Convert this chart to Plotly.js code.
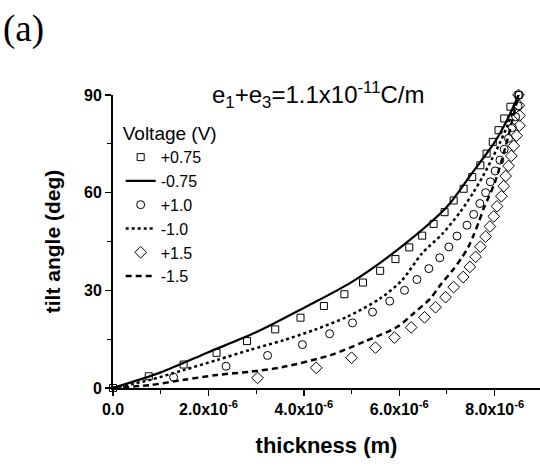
<!DOCTYPE html>
<html>
<head>
<meta charset="utf-8">
<script src="https://cdn.plot.ly/plotly-3.0.1.min.js"></script>
<style>html,body{margin:0;padding:0;background:#fff;}#chart{width:540px;height:466px;}</style>
</head>
<body>
<div id="chart"></div>
<script>
// thickness values in micrometres (×1e-6 m), tilt angle in degrees
const sqX = [0, 0.75, 1.48, 2.17, 2.81, 3.40, 3.93, 4.42, 4.85, 5.24, 5.60, 5.92, 6.21, 6.48, 6.72, 6.95, 7.14, 7.35, 7.53, 7.70, 7.83, 7.96, 8.08, 8.20, 8.33, 8.50];
const sqY = [0, 3.6, 7.2, 10.8, 14.4, 18.0, 21.6, 25.2, 28.8, 32.4, 36.0, 39.6, 43.2, 46.8, 50.4, 54.0, 57.6, 61.2, 64.8, 68.4, 72.0, 75.6, 79.2, 82.8, 86.4, 90.0];

const ciX = [1.27, 2.37, 3.24, 3.97, 4.54, 5.02, 5.44, 5.80, 6.11, 6.37, 6.62, 6.85, 7.04, 7.21, 7.42, 7.56, 7.69, 7.81, 7.91, 8.01, 8.11, 8.20, 8.29, 8.37, 8.44, 8.49, 8.51];
const ciY = [3.33, 6.67, 10.0, 13.33, 16.67, 20.0, 23.33, 26.67, 30.0, 33.33, 36.67, 40.0, 43.33, 46.67, 50.0, 53.33, 56.67, 60.0, 63.33, 66.67, 70.0, 73.33, 76.67, 80.0, 83.33, 86.67, 90.0];

const diX = [3.03, 4.26, 5.00, 5.50, 5.90, 6.25, 6.53, 6.76, 6.97, 7.14, 7.34, 7.48, 7.60, 7.70, 7.81, 7.90, 7.98, 8.05, 8.14, 8.19, 8.23, 8.29, 8.35, 8.40, 8.46, 8.52, 8.52, 8.51, 8.50];
const diY = [3.1, 6.2, 9.3, 12.4, 15.5, 18.6, 21.7, 24.8, 27.9, 31.0, 34.1, 37.2, 40.3, 43.4, 46.5, 49.6, 52.7, 55.8, 58.9, 62.0, 65.1, 68.2, 71.3, 74.4, 77.5, 80.6, 83.7, 86.8, 90.0];

const solidX = [0, 1, 2, 3, 4, 5, 6, 7, 7.5, 8, 8.25, 8.5];
const solidY = [0, 4.8, 11.0, 17.1, 24.6, 32.5, 42.9, 55.7, 65.5, 75.5, 82.0, 90.0];

const dotX = [0, 0.78, 1.48, 2.18, 2.87, 3.58, 4.21, 4.91, 5.60, 6.05, 6.48, 6.90, 7.28, 7.55, 7.75, 7.93, 8.10, 8.25, 8.38, 8.50];
const dotY = [0, 2.5, 5.5, 8.6, 11.7, 14.7, 17.8, 21.9, 27.5, 33.0, 41.4, 47.3, 54.1, 60.0, 65.0, 70.0, 75.0, 80.0, 85.0, 90.0];

const dashX = [0, 0.78, 1.48, 2.18, 2.88, 3.58, 4.56, 5.26, 5.96, 6.30, 6.65, 6.86, 7.12, 7.30, 7.45, 7.56, 7.67, 7.77, 7.88, 8.00, 8.15, 8.28, 8.40, 8.50];
const dashY = [0, 0.9, 2.5, 4.0, 5.0, 6.5, 10.1, 14.2, 18.8, 22.9, 27.5, 31.6, 36.2, 39.8, 43.4, 47.0, 51.1, 55.2, 58.8, 63.0, 70.0, 77.0, 84.0, 90.0];

const xTickVals = [0, 2, 4, 6, 8];
const xTickText = ['<b>0.0</b>', '<b>2.0x10<sup>-6</sup></b>', '<b>4.0x10<sup>-6</sup></b>', '<b>6.0x10<sup>-6</sup></b>', '<b>8.0x10<sup>-6</sup></b>'];
const yTickVals = [0, 30, 60, 90];
const yTickText = ['<b>0</b>', '<b>30</b>', '<b>60</b>', '<b>90</b>'];

const um = v => v * 1e-6;
const F = '"Liberation Sans", Arial, sans-serif';

const traces = [
  {name: '+0.75', x: sqX.map(um), y: sqY, mode: 'markers', type: 'scatter',
   marker: {symbol: 'square-open', size: 7, color: '#000', line: {width: 1}}, cliponaxis: false},
  {name: '-0.75', x: solidX.map(um), y: solidY, mode: 'lines', type: 'scatter',
   line: {color: '#000', width: 2.2, shape: 'spline', smoothing: 0.8}, cliponaxis: false},
  {name: '+1.0', x: ciX.map(um), y: ciY, mode: 'markers', type: 'scatter',
   marker: {symbol: 'circle-open', size: 8, color: '#000', line: {width: 1}}, cliponaxis: false},
  {name: '-1.0', x: dotX.map(um), y: dotY, mode: 'lines', type: 'scatter',
   line: {color: '#000', width: 2.5, dash: 'dot', shape: 'spline', smoothing: 0.8}, cliponaxis: false},
  {name: '+1.5', x: diX.map(um), y: diY, mode: 'markers', type: 'scatter',
   marker: {symbol: 'diamond-open', size: 9, color: '#000', line: {width: 1}}, cliponaxis: false},
  {name: '-1.5', x: dashX.map(um), y: dashY, mode: 'lines', type: 'scatter',
   line: {color: '#000', width: 2.5, dash: '6px,4px', shape: 'spline', smoothing: 0.8}, cliponaxis: false}
];

const layout = {
  width: 540, height: 466,
  margin: {l: 113, r: 0, t: 95, b: 78},
  paper_bgcolor: '#fff', plot_bgcolor: '#fff',
  font: {family: F, color: '#000', size: 16},
  showlegend: true,
  legend: {
    x: 0.018, y: 0.93, xanchor: 'left', yanchor: 'top',
    bgcolor: 'rgba(0,0,0,0)', borderwidth: 0,
    font: {family: F, size: 16, color: '#000'},
    title: {text: 'Voltage (V)', font: {family: F, size: 19, color: '#000'}, side: 'top'},
    tracegroupgap: 0, itemwidth: 30
  },
  xaxis: {
    range: [0, um(8.95)],
    tickvals: xTickVals.map(um), ticktext: xTickText,
    ticks: 'outside', ticklen: 6, tickwidth: 1.5, tickcolor: '#000',
    minor: {dtick: um(1), ticks: 'outside', ticklen: 4, tickwidth: 1, tickcolor: '#000', tick0: 0},
    showline: true, linecolor: '#000', linewidth: 2,
    showgrid: false, zeroline: false,
    tickfont: {family: F, size: 16, color: '#000'},
    title: {text: '<b>thickness (m)</b>', font: {family: F, size: 22, color: '#000'}, standoff: 20}
  },
  yaxis: {
    range: [0, 90],
    tickvals: yTickVals, ticktext: yTickText,
    ticks: 'outside', ticklen: 6, tickwidth: 1.5, tickcolor: '#000',
    minor: {dtick: 15, ticks: 'outside', ticklen: 4, tickwidth: 1, tickcolor: '#000', tick0: 0},
    showline: true, linecolor: '#000', linewidth: 2,
    showgrid: false, zeroline: false,
    tickfont: {family: F, size: 16, color: '#000'},
    title: {text: '<b>tilt angle (deg)</b>', font: {family: F, size: 21, color: '#000'}, standoff: 18}
  },
  annotations: [
    {text: 'e<sub>1</sub>+e<sub>3</sub>=1.1x10<sup>-11</sup>C/m', xref: 'paper', yref: 'paper',
     x: 0.482, y: 1.0, xanchor: 'center', yanchor: 'middle', showarrow: false,
     font: {family: F, size: 24, color: '#000'}},
    {text: '(a)', xref: 'paper', yref: 'paper', x: -0.262, y: 1.225, xanchor: 'left', yanchor: 'middle',
     showarrow: false, font: {family: '"Liberation Serif", "Times New Roman", serif', size: 37, color: '#000'}}
  ]
};

Plotly.newPlot('chart', traces, layout, {displayModeBar: false, staticPlot: true});
</script>
</body>
</html>
